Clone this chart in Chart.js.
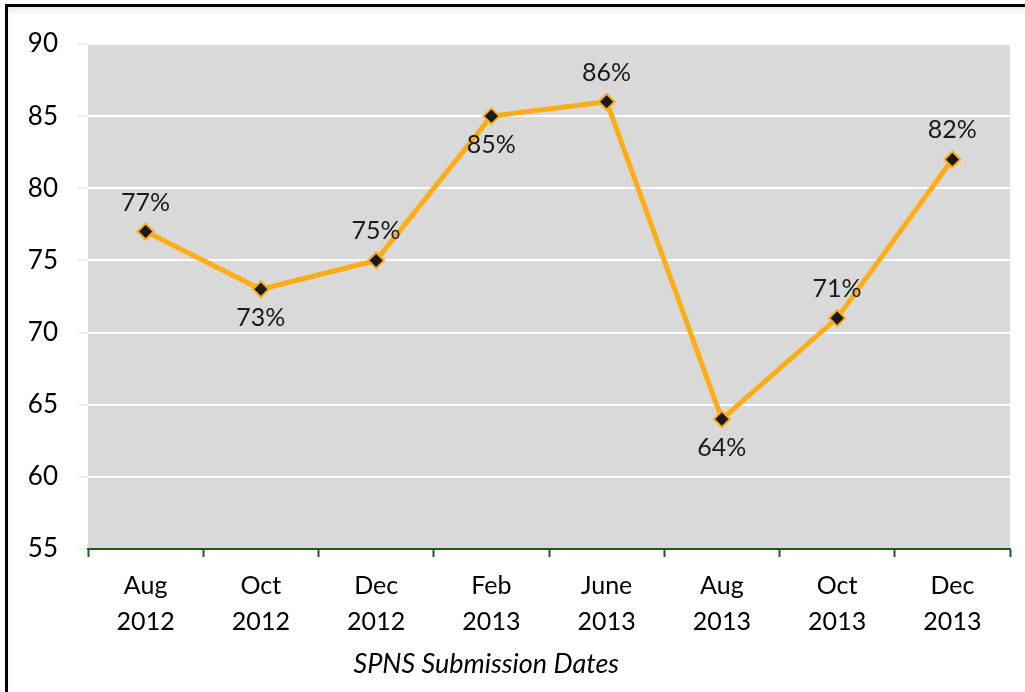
<!DOCTYPE html>
<html>
<head>
<meta charset="utf-8">
<script src="https://cdn.jsdelivr.net/npm/chart.js@4"></script>
<style>
  html, body { margin: 0; padding: 0; background: #fff; overflow: hidden; }
  #wrap { position: relative; width: 1025px; height: 692px; }
  #frame {
    position: absolute; left: 5px; top: 4px; width: 1060px; height: 720px;
    border: 3px solid #000; box-sizing: border-box;
    box-shadow: inset 0 6px 8px -4px rgba(0,0,0,0.12);
    pointer-events: none;
  }
  canvas { position: absolute; left: 0; top: 0; }
</style>
</head>
<body>
<div id="wrap">
  <canvas id="chart" width="1025" height="692"></canvas>
  <div id="frame"></div>
</div>
<script>
// chart data
const categories = [
  ["Aug", "2012"], ["Oct", "2012"], ["Dec", "2012"], ["Feb", "2013"],
  ["June", "2013"], ["Aug", "2013"], ["Oct", "2013"], ["Dec", "2013"]
];
const scores = [77, 73, 75, 85, 86, 64, 71, 82];
const labelSide = ["above", "below", "above", "below", "above", "below", "above", "above"];
const yTicks = [55, 60, 65, 70, 75, 80, 85, 90];
const axisTitle = "SPNS Submission Dates";

const FONT = "Lato, 'Open Sans', 'DejaVu Sans', sans-serif";

// grey plot background
const plotBackground = {
  id: "plotBackground",
  beforeDraw(chart) {
    const { ctx, chartArea } = chart;
    ctx.save();
    ctx.fillStyle = "#d9d9d9";
    ctx.fillRect(chartArea.left, chartArea.top, chartArea.width, chartArea.height);
    ctx.restore();
  },
};

// percentage labels next to each point
const pointLabels = {
  id: "pointLabels",
  afterDatasetsDraw(chart) {
    const { ctx } = chart;
    const meta = chart.getDatasetMeta(0);
    ctx.save();
    ctx.font = "25px " + FONT;
    ctx.fillStyle = "#1a1a1a";
    ctx.textAlign = "center";
    ctx.textBaseline = "middle";
    meta.data.forEach(function (pt, i) {
      const dy = labelSide[i] === "above" ? -29 : 29;
      ctx.fillText(scores[i] + "%", pt.x, pt.y + dy);
    });
    ctx.restore();
  },
};

// italic axis title under the category labels
const xTitle = {
  id: "xTitle",
  afterDraw(chart) {
    const { ctx, chartArea } = chart;
    ctx.save();
    ctx.font = "italic 27px " + FONT;
    ctx.fillStyle = "#000";
    ctx.textAlign = "center";
    ctx.textBaseline = "middle";
    ctx.fillText(axisTitle, chartArea.left + chartArea.width * 0.432, 664);
    ctx.restore();
  },
};

const ctx = document.getElementById("chart").getContext("2d");
new Chart(ctx, {
  type: "line",
  data: {
    labels: categories,
    datasets: [
      {
        data: scores,
        borderColor: "#fdad15",
        borderWidth: 5,
        pointStyle: "rectRot",
        pointRadius: 8,
        pointHoverRadius: 8,
        pointBackgroundColor: "#1a1a1a",
        pointBorderColor: "#fdad15",
        pointBorderWidth: 2,
        tension: 0,
      },
    ],
  },
  options: {
    responsive: false,
    animation: false,
    layout: { padding: { top: 44, right: 15, left: 0, bottom: 0 } },
    plugins: {
      legend: { display: false },
      tooltip: { enabled: false },
    },
    scales: {
      x: {
        offset: true,
        grid: {
          offset: true,
          drawOnChartArea: false,
          tickLength: 8,
          tickColor: "#1f5a1f",
          tickWidth: 2,
        },
        border: { display: true, color: "#1f5a1f", width: 2 },
        ticks: {
          color: "#000",
          font: { family: FONT, size: 25, lineHeight: 1.44 },
          padding: 11,
          maxRotation: 0,
          autoSkip: false,
        },
        afterFit(scale) {
          scale.height = 143;
        },
      },
      y: {
        min: 55,
        max: 90,
        afterBuildTicks(scale) {
          scale.ticks = yTicks.map((v) => ({ value: v }));
        },
        grid: {
          color: "#ffffff",
          lineWidth: 2,
          tickLength: 10,
          tickColor: "#ececec",
        },
        border: { display: false },
        ticks: {
          color: "#000",
          font: { family: FONT, size: 26 },
          padding: 20,
        },
        afterFit(scale) {
          scale.width = 88;
        },
      },
    },
  },
  plugins: [plotBackground, pointLabels, xTitle],
});
</script>
</body>
</html>
